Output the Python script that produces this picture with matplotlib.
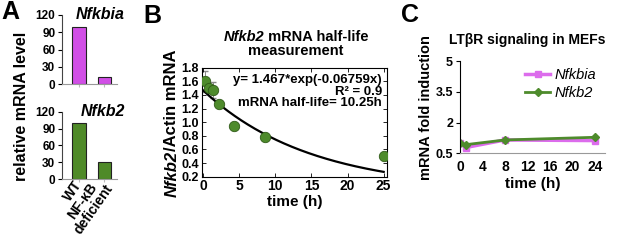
import numpy as np
import matplotlib
matplotlib.use("Agg")
import matplotlib.pyplot as plt

plt.rcParams['font.family'] = ['Liberation Sans', 'DejaVu Sans']
plt.rcParams['font.weight'] = 'bold'
plt.rcParams['axes.labelweight'] = 'bold'

W, H = 617, 245

# ── data ──────────────────────────────────────────────────────────────────────
genotypes  = ['WT', 'NF-κB\ndeficient']
nfkbia_rel = [100, 12]
nfkb2_rel  = [100, 31]

hl_time  = [0.3, 0.75, 1.3, 2.2, 4.3, 8.5, 25]
hl_ratio = [1.60, 1.50, 1.47, 1.27, 0.94, 0.79, 0.50]
hl_err   = [0.15, 0.03, 0.12, 0.03, 0.02, 0.02, 0.02]
fit_a, fit_k = 1.467, 0.06759      # fit reported on the panel

ltb_time   = [0, 1, 8, 24]
ltb_nfkbia = [0.99, 0.78, 1.15, 1.12]
ltb_nfkb2  = [1.00, 0.92, 1.15, 1.28]

MAG   = '#d45ee8'
GREEN = '#4e8b2c'


def px(x, y):
    return x / W, 1 - y / H


def rich(fig, x, y, parts, size, rotation=0):
    """place styled pieces one after another, centred on pixel (x, y)"""
    r = fig.canvas.get_renderer()
    objs, lens = [], []
    for s, style in parts:
        t = fig.text(0, 0, s, fontsize=size, style=style, fontweight='bold',
                     rotation=rotation, ha='left', va='center')
        bb = t.get_window_extent(r)
        objs.append(t)
        lens.append(bb.height if rotation == 90 else bb.width)
    pos = -sum(lens) / 2
    for t, l in zip(objs, lens):
        if rotation == 90:
            t.set_position(px(x, y - pos))
            t.set_va('bottom'); t.set_ha('center')
        else:
            t.set_position(px(x + pos, y))
        pos += l


fig = plt.figure(figsize=(W / 100, H / 100), dpi=100)

# ── A: bars ───────────────────────────────────────────────────────────────────
axA1 = fig.add_axes([0.101, 0.656, 0.088, 0.283])
axA2 = fig.add_axes([0.101, 0.269, 0.088, 0.275])
xs = np.arange(len(genotypes))
for ax, vals, col, name in [(axA1, nfkbia_rel, '#d14fe6', 'Nfkbia'),
                            (axA2, nfkb2_rel, '#4f8a28', 'Nfkb2')]:
    ax.bar(xs, vals, width=0.52, color=col, edgecolor='#222222', linewidth=0.8)
    ax.set_xlim(-0.65, 1.48)
    ax.set_ylim(0, 120)
    ax.set_yticks([0, 30, 60, 90, 120])
    ax.tick_params(axis='y', labelsize=8.5, length=3, width=0.8, pad=2)
    ax.tick_params(axis='x', length=2, color='#bbbbbb')
    for s in ['top', 'right']:
        ax.spines[s].set_visible(False)
    ax.spines['left'].set_color('#444444')
    ax.spines['bottom'].set_color('#999999')
    ax.text(1.15, 1.0, name, transform=ax.transAxes, ha='right', va='center',
            fontsize=11.5, style='italic', fontweight='bold')
axA1.set_xticks(xs)
axA1.set_xticklabels([])
axA2.set_xticks(xs)
axA2.set_xticklabels(genotypes, rotation=55, ha='right', va='center',
                     rotation_mode='anchor', fontsize=10,
                     multialignment='center', linespacing=0.95)
axA2.tick_params(axis='x', pad=0)
fig.text(*px(22, 106), 'relative mRNA level', rotation=90, ha='center',
         va='center', fontsize=11.5)

# ── B: half-life ──────────────────────────────────────────────────────────────
axB = fig.add_axes([0.3269, 0.2788, 0.3008, 0.4449])
tt = np.linspace(0, 25, 200)
axB.plot(tt, fit_a * np.exp(-fit_k * tt), color='black', lw=1.6, zorder=2)
axB.errorbar(hl_time, hl_ratio, yerr=hl_err, fmt='none', ecolor='#888888',
             elinewidth=0.7, capsize=2, zorder=1)
axB.plot(hl_time, hl_ratio, 'o', ms=7.5, mfc=GREEN, mec='#2f5a17', mew=0.6,
         zorder=3)
axB.set_xlim(-0.2, 25.5)
axB.set_ylim(0.2, 1.8)
axB.set_xticks([0, 5, 10, 15, 20, 25])
axB.set_yticks(np.round(np.arange(0.2, 1.81, 0.2), 1))
axB.set_yticklabels([f'{v:.1f}' for v in np.arange(0.2, 1.81, 0.2)])
axB.tick_params(direction='in', top=True, right=True, length=3, width=0.6,
                labelsize=9, pad=2)
axB.tick_params(axis='x', labelsize=10)
for s in axB.spines.values():
    s.set_linewidth(0.8)
axB.set_xlabel('time (h)', fontsize=11, labelpad=1)
for yy, s in [(0.887, 'y= 1.467*exp(-0.06759x)'), (0.780, 'R² = 0.9'),
              (0.673, 'mRNA half-life= 10.25h')]:
    axB.text(0.971, yy, s, transform=axB.transAxes, ha='right', va='center',
             fontsize=9.5)
rich(fig, 296, 37, [('Nfkb2', 'italic'), (' mRNA half-life', 'normal')], 10.5)
fig.text(*px(296, 51), 'measurement', ha='center', va='center', fontsize=10.5)
rich(fig, 172, 123, [('Nfkb2', 'italic'), ('/Actin mRNA', 'normal')], 12,
     rotation=90)

# ── C: LTbR time course ───────────────────────────────────────────────────────
axC = fig.add_axes([0.7455, 0.3743, 0.235, 0.3767])
axC.plot(ltb_time, ltb_nfkbia, '-s', color='#dc6cec', lw=2.5, ms=5,
         label='Nfkbia')
axC.plot(ltb_time, ltb_nfkb2, '-D', color=GREEN, lw=2, ms=4.5, label='Nfkb2')
axC.set_xlim(0, 25.8)
axC.set_ylim(0.5, 5)
axC.set_xticks([0, 4, 8, 12, 16, 20, 24])
axC.set_yticks([0.5, 2, 3.5, 5])
axC.set_yticklabels(['0.5', '2', '3.5', '5'])
axC.tick_params(axis='y', length=3, width=0.8, labelsize=9, pad=2)
axC.tick_params(axis='x', length=0, labelsize=10, pad=5)
for s in ['top', 'right']:
    axC.spines[s].set_visible(False)
axC.spines['bottom'].set_color('#999999')
axC.set_xlabel('time (h)', fontsize=11, labelpad=2)
axC.set_ylabel('mRNA fold induction', fontsize=10.5, labelpad=2)
leg = axC.legend(loc='upper right', frameon=False, fontsize=10.5,
                 handlelength=1.7, handletextpad=0.3, borderaxespad=0.2,
                 labelspacing=0.3, bbox_to_anchor=(1.0, 1.02))
for t in leg.get_texts():
    t.set_style('italic'); t.set_fontweight('normal')
fig.text(*px(527, 40), 'LTβR signaling in MEFs', ha='center', va='center',
         fontsize=10)

# ── panel letters ─────────────────────────────────────────────────────────────
for x, y, l in [(10.5, 12, 'A'), (152.5, 16, 'B'), (410, 15, 'C')]:
    fig.text(*px(x, y), l, ha='center', va='center', fontsize=18)

fig.savefig('out.png', dpi=100)
